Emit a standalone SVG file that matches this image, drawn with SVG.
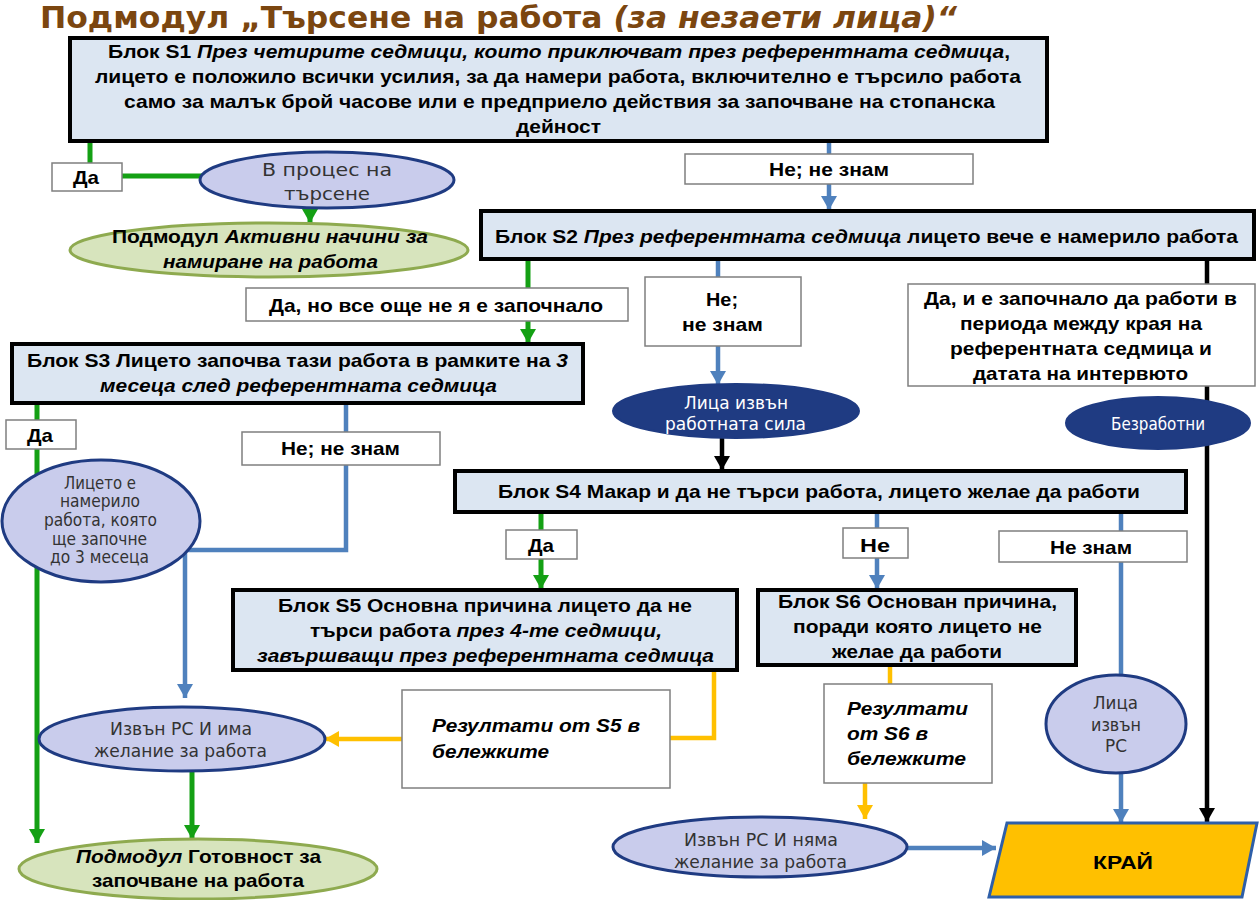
<svg xmlns="http://www.w3.org/2000/svg" width="1259" height="900" viewBox="0 0 1259 900">
<style>
.bg{fill:#ffffff}
.blk{fill:#DCE6F2;stroke:#000;stroke-width:4}
.lbl{fill:#fff;stroke:#7f7f7f;stroke-width:1.5}
.lav{fill:#C9CCEC;stroke:#1F3B82;stroke-width:3}
.navy{fill:#1F3B82;stroke:#1F3B82;stroke-width:2}
.grn{fill:#D7E4BD;stroke:#8EAA4F;stroke-width:3}
.end{fill:#FFC000;stroke:#2E5FA8;stroke-width:3}
.t{font-family:"Liberation Sans",Arial,sans-serif;font-weight:bold;font-size:18.5px;fill:#000}
.e{font-family:"DejaVu Sans",Verdana,sans-serif;font-size:17px;fill:#333}
.ew{font-family:"DejaVu Sans",Verdana,sans-serif;font-size:17px;fill:#fff}
.i{font-style:italic}
.cg{fill:none;stroke:#14A014;stroke-width:5}
.cb{fill:none;stroke:#4F81BD;stroke-width:4.5}
.ck{fill:none;stroke:#000;stroke-width:4.5}
.cy{fill:none;stroke:#FFC000;stroke-width:4.5}
</style>
<defs>
<marker id="ag" markerUnits="userSpaceOnUse" markerWidth="16" markerHeight="16" refX="14" refY="8" orient="auto"><path d="M0,0 L14,8 L0,16 z" fill="#14A014"/></marker>
<marker id="ab" markerUnits="userSpaceOnUse" markerWidth="16" markerHeight="16" refX="14" refY="8" orient="auto"><path d="M0,0 L14,8 L0,16 z" fill="#4F81BD"/></marker>
<marker id="ak" markerUnits="userSpaceOnUse" markerWidth="16" markerHeight="16" refX="14" refY="8" orient="auto"><path d="M0,0 L14,8 L0,16 z" fill="#000"/></marker>
<marker id="ay" markerUnits="userSpaceOnUse" markerWidth="16" markerHeight="16" refX="14" refY="8" orient="auto"><path d="M0,0 L14,8 L0,16 z" fill="#FFC000"/></marker>
</defs>
<rect class="bg" x="0" y="0" width="1259" height="900"/>
<text x="40" y="28" font-family="'DejaVu Sans',Verdana,sans-serif" font-weight="bold" font-size="31" fill="#7B4610" textLength="917" lengthAdjust="spacingAndGlyphs">Подмодул „Търсене на работа <tspan font-style="italic">(за незаети лица)“</tspan></text>

<g id="connectors">
<polyline class="cg" points="90,141 90,176 202,176"/>
<line class="cg" x1="310" y1="207" x2="310" y2="223" marker-end="url(#ag)"/>
<line class="cb" x1="829" y1="141" x2="829" y2="210" marker-end="url(#ab)"/>
<line class="cg" x1="528" y1="260" x2="528" y2="343" marker-end="url(#ag)"/>
<line class="cb" x1="718" y1="260" x2="718" y2="385" marker-end="url(#ab)"/>
<line class="ck" x1="1207" y1="260" x2="1207" y2="822" marker-end="url(#ak)"/>
<line class="ck" x1="722" y1="438" x2="722" y2="470" marker-end="url(#ak)"/>
<line class="cg" x1="37" y1="403" x2="37" y2="843" marker-end="url(#ag)"/>
<polyline class="cb" points="346,403 346,550 185,550 185,698" marker-end="url(#ab)"/>
<line class="cg" x1="541" y1="512" x2="541" y2="589" marker-end="url(#ag)"/>
<line class="cb" x1="877" y1="512" x2="877" y2="589" marker-end="url(#ab)"/>
<line class="cb" x1="1121" y1="514" x2="1121" y2="823" marker-end="url(#ab)"/>
<polyline class="cy" points="714,670 714,738 670,738"/>
<line class="cy" x1="402" y1="739" x2="325" y2="739" marker-end="url(#ay)"/>
<line class="cg" x1="192" y1="771" x2="192" y2="839" marker-end="url(#ag)"/>
<line class="cy" x1="890" y1="665" x2="890" y2="684"/>
<line class="cy" x1="865" y1="783" x2="865" y2="819" marker-end="url(#ay)"/>
<line class="cb" x1="908" y1="848" x2="996" y2="848" marker-end="url(#ab)"/>
</g>

<g id="s1">
<rect class="blk" x="70" y="38" width="977" height="103"/>
<text class="t" x="108" y="58" textLength="902" lengthAdjust="spacingAndGlyphs">Блок S1 <tspan class="i">През четирите седмици, които приключват през референтната седмица</tspan>,</text>
<text class="t" x="95" y="83" textLength="926" lengthAdjust="spacingAndGlyphs">лицето е положило всички усилия, за да намери работа, включително е търсило работа</text>
<text class="t" x="124" y="108" textLength="871" lengthAdjust="spacingAndGlyphs">само за малък брой часове или е предприело действия за започване на стопанска</text>
<text class="t" x="516" y="133" textLength="85" lengthAdjust="spacingAndGlyphs">дейност</text>
</g>
<g id="l-s1-da">
<rect class="lbl" x="52" y="163" width="70" height="28"/>
<text class="t" x="73" y="184" textLength="26" lengthAdjust="spacingAndGlyphs">Да</text>
</g>
<g id="in-search">
<ellipse class="lav" cx="327" cy="180" rx="127" ry="28"/>
<text class="e" x="262" y="176" font-size="21" textLength="130" lengthAdjust="spacingAndGlyphs">В процес на</text>
<text class="e" x="284" y="200" font-size="21" textLength="86" lengthAdjust="spacingAndGlyphs">търсене</text>
</g>
<g id="sub-active">
<ellipse class="grn" cx="269" cy="250" rx="199" ry="27"/>
<text class="t" x="112" y="243" textLength="316" lengthAdjust="spacingAndGlyphs">Подмодул <tspan class="i">Активни начини за</tspan></text>
<text class="t i" x="163" y="268" textLength="215" lengthAdjust="spacingAndGlyphs">намиране на работа</text>
</g>
<g id="l-s1-no">
<rect class="lbl" x="685" y="154" width="288" height="30"/>
<text class="t" x="769" y="176" textLength="120" lengthAdjust="spacingAndGlyphs">Не; не знам</text>
</g>

<g id="s2">
<rect class="blk" x="481" y="211" width="773" height="48"/>
<text class="t" x="495" y="243" textLength="743" lengthAdjust="spacingAndGlyphs">Блок S2 <tspan class="i">През референтната седмица</tspan> лицето вече е намерило работа</text>
</g>
<g id="l-s2-yes-not">
<rect class="lbl" x="246" y="288" width="382" height="33"/>
<text class="t" x="269" y="312" textLength="334" lengthAdjust="spacingAndGlyphs">Да, но все още не я е започнало</text>
</g>
<g id="l-s2-no">
<rect class="lbl" x="645" y="277" width="156" height="69"/>
<text class="t" x="706" y="306" textLength="32" lengthAdjust="spacingAndGlyphs">Не;</text>
<text class="t" x="682" y="331" textLength="81" lengthAdjust="spacingAndGlyphs">не знам</text>
</g>
<g id="l-s2-yes-started">
<rect class="lbl" x="908" y="284" width="347" height="102"/>
<text class="t" x="924" y="305" textLength="313" lengthAdjust="spacingAndGlyphs">Да, и е започнало да работи в</text>
<text class="t" x="960" y="330" textLength="242" lengthAdjust="spacingAndGlyphs">периода между края на</text>
<text class="t" x="950" y="355" textLength="262" lengthAdjust="spacingAndGlyphs">референтната седмица и</text>
<text class="t" x="973" y="380" textLength="215" lengthAdjust="spacingAndGlyphs">датата на интервюто</text>
</g>
<g id="outside-lf">
<ellipse class="navy" cx="736" cy="411" rx="123" ry="27"/>
<text class="ew" x="684" y="409" textLength="104" lengthAdjust="spacingAndGlyphs">Лица извън</text>
<text class="ew" x="665" y="430" textLength="141" lengthAdjust="spacingAndGlyphs">работната сила</text>
</g>
<g id="unemployed">
<ellipse class="navy" cx="1158" cy="423" rx="92" ry="26"/>
<text class="ew" x="1111" y="430" font-size="16" textLength="94" lengthAdjust="spacingAndGlyphs">Безработни</text>
</g>

<g id="s3">
<rect class="blk" x="12" y="344" width="571" height="59"/>
<text class="t" x="27" y="367" textLength="541" lengthAdjust="spacingAndGlyphs">Блок S3 Лицето започва тази работа в рамките на <tspan class="i">3</tspan></text>
<text class="t i" x="100" y="392" textLength="397" lengthAdjust="spacingAndGlyphs">месеца след референтната седмица</text>
</g>
<g id="l-s3-da">
<rect class="lbl" x="6" y="420" width="70" height="29"/>
<text class="t" x="27" y="442" textLength="26" lengthAdjust="spacingAndGlyphs">Да</text>
</g>
<g id="l-s3-no">
<rect class="lbl" x="242" y="432" width="198" height="33"/>
<text class="t" x="281" y="455" textLength="119" lengthAdjust="spacingAndGlyphs">Не; не знам</text>
</g>
<g id="found-3m">
<ellipse class="lav" cx="101" cy="521" rx="99" ry="61"/>
<text class="e" x="64" y="489" font-size="16" textLength="72" lengthAdjust="spacingAndGlyphs">Лицето е</text>
<text class="e" x="60" y="507" font-size="16" textLength="80" lengthAdjust="spacingAndGlyphs">намерило</text>
<text class="e" x="44" y="526" font-size="16" textLength="113" lengthAdjust="spacingAndGlyphs">работа, която</text>
<text class="e" x="52" y="545" font-size="16" textLength="95" lengthAdjust="spacingAndGlyphs">ще започне</text>
<text class="e" x="50" y="563" font-size="16" textLength="99" lengthAdjust="spacingAndGlyphs">до 3 месеца</text>
</g>

<g id="s4">
<rect class="blk" x="455" y="471" width="731" height="41"/>
<text class="t" x="498" y="498" textLength="642" lengthAdjust="spacingAndGlyphs">Блок S4 Макар и да не търси работа, лицето желае да работи</text>
</g>
<g id="l-s4-da">
<rect class="lbl" x="506" y="530" width="71" height="29"/>
<text class="t" x="528" y="552" textLength="26" lengthAdjust="spacingAndGlyphs">Да</text>
</g>
<g id="l-s4-no">
<rect class="lbl" x="843" y="528" width="65" height="30"/>
<text class="t" x="860" y="552" font-size="22" textLength="30" lengthAdjust="spacingAndGlyphs">Не</text>
</g>
<g id="l-s4-dk">
<rect class="lbl" x="999" y="531" width="188" height="31"/>
<text class="t" x="1050" y="554" textLength="82" lengthAdjust="spacingAndGlyphs">Не знам</text>
</g>

<g id="s5">
<rect class="blk" x="233" y="590" width="504" height="80"/>
<text class="t" x="278" y="612" textLength="414" lengthAdjust="spacingAndGlyphs">Блок S5 Основна причина лицето да не</text>
<text class="t" x="310" y="637" textLength="352" lengthAdjust="spacingAndGlyphs">търси работа <tspan class="i">през 4-те седмици,</tspan></text>
<text class="t i" x="257" y="662" textLength="457" lengthAdjust="spacingAndGlyphs">завършващи през референтната седмица</text>
</g>
<g id="s6">
<rect class="blk" x="758" y="590" width="318" height="75"/>
<text class="t" x="778" y="608" textLength="279" lengthAdjust="spacingAndGlyphs">Блок S6 Основан причина,</text>
<text class="t" x="793" y="633" textLength="249" lengthAdjust="spacingAndGlyphs">поради която лицето не</text>
<text class="t" x="832" y="658" textLength="170" lengthAdjust="spacingAndGlyphs">желае да работи</text>
</g>
<g id="res-s5">
<rect class="lbl" x="402" y="690" width="268" height="98"/>
<text class="t i" x="432" y="732" textLength="208" lengthAdjust="spacingAndGlyphs">Резултати от S5 в</text>
<text class="t i" x="432" y="758" textLength="117" lengthAdjust="spacingAndGlyphs">бележките</text>
</g>
<g id="res-s6">
<rect class="lbl" x="824" y="684" width="168" height="99"/>
<text class="t i" x="847" y="715" textLength="121" lengthAdjust="spacingAndGlyphs">Резултати</text>
<text class="t i" x="847" y="740" textLength="81" lengthAdjust="spacingAndGlyphs">от S6 в</text>
<text class="t i" x="847" y="765" textLength="119" lengthAdjust="spacingAndGlyphs">бележките</text>
</g>
<g id="out-want">
<ellipse class="lav" cx="182" cy="739" rx="143" ry="32"/>
<text class="e" x="110" y="735" textLength="142" lengthAdjust="spacingAndGlyphs">Извън РС И има</text>
<text class="e" x="94" y="757" textLength="173" lengthAdjust="spacingAndGlyphs">желание за работа</text>
</g>
<g id="out-nowant">
<ellipse class="lav" cx="760" cy="847" rx="147" ry="30"/>
<text class="e" x="684" y="846" textLength="154" lengthAdjust="spacingAndGlyphs">Извън РС И няма</text>
<text class="e" x="674" y="868" textLength="173" lengthAdjust="spacingAndGlyphs">желание за работа</text>
</g>
<g id="out-rs">
<ellipse class="lav" cx="1116" cy="724" rx="70" ry="49"/>
<text class="e" x="1093" y="709" font-size="18" textLength="45" lengthAdjust="spacingAndGlyphs">Лица</text>
<text class="e" x="1091" y="731" font-size="18" textLength="50" lengthAdjust="spacingAndGlyphs">извън</text>
<text class="e" x="1105" y="752" font-size="18" textLength="22" lengthAdjust="spacingAndGlyphs">РС</text>
</g>
<g id="sub-ready">
<ellipse class="grn" cx="198" cy="869" rx="179" ry="30"/>
<text class="t" x="76" y="863" textLength="245" lengthAdjust="spacingAndGlyphs"><tspan class="i">Подмодул</tspan> Готовност за</text>
<text class="t" x="92" y="887" textLength="212" lengthAdjust="spacingAndGlyphs">започване на работа</text>
</g>
<g id="end">
<polygon class="end" points="1007,823 1257,823 1242,897 989,897"/>
<text class="t" x="1093" y="869" font-size="25" textLength="60" lengthAdjust="spacingAndGlyphs">КРАЙ</text>
</g>
</svg>
